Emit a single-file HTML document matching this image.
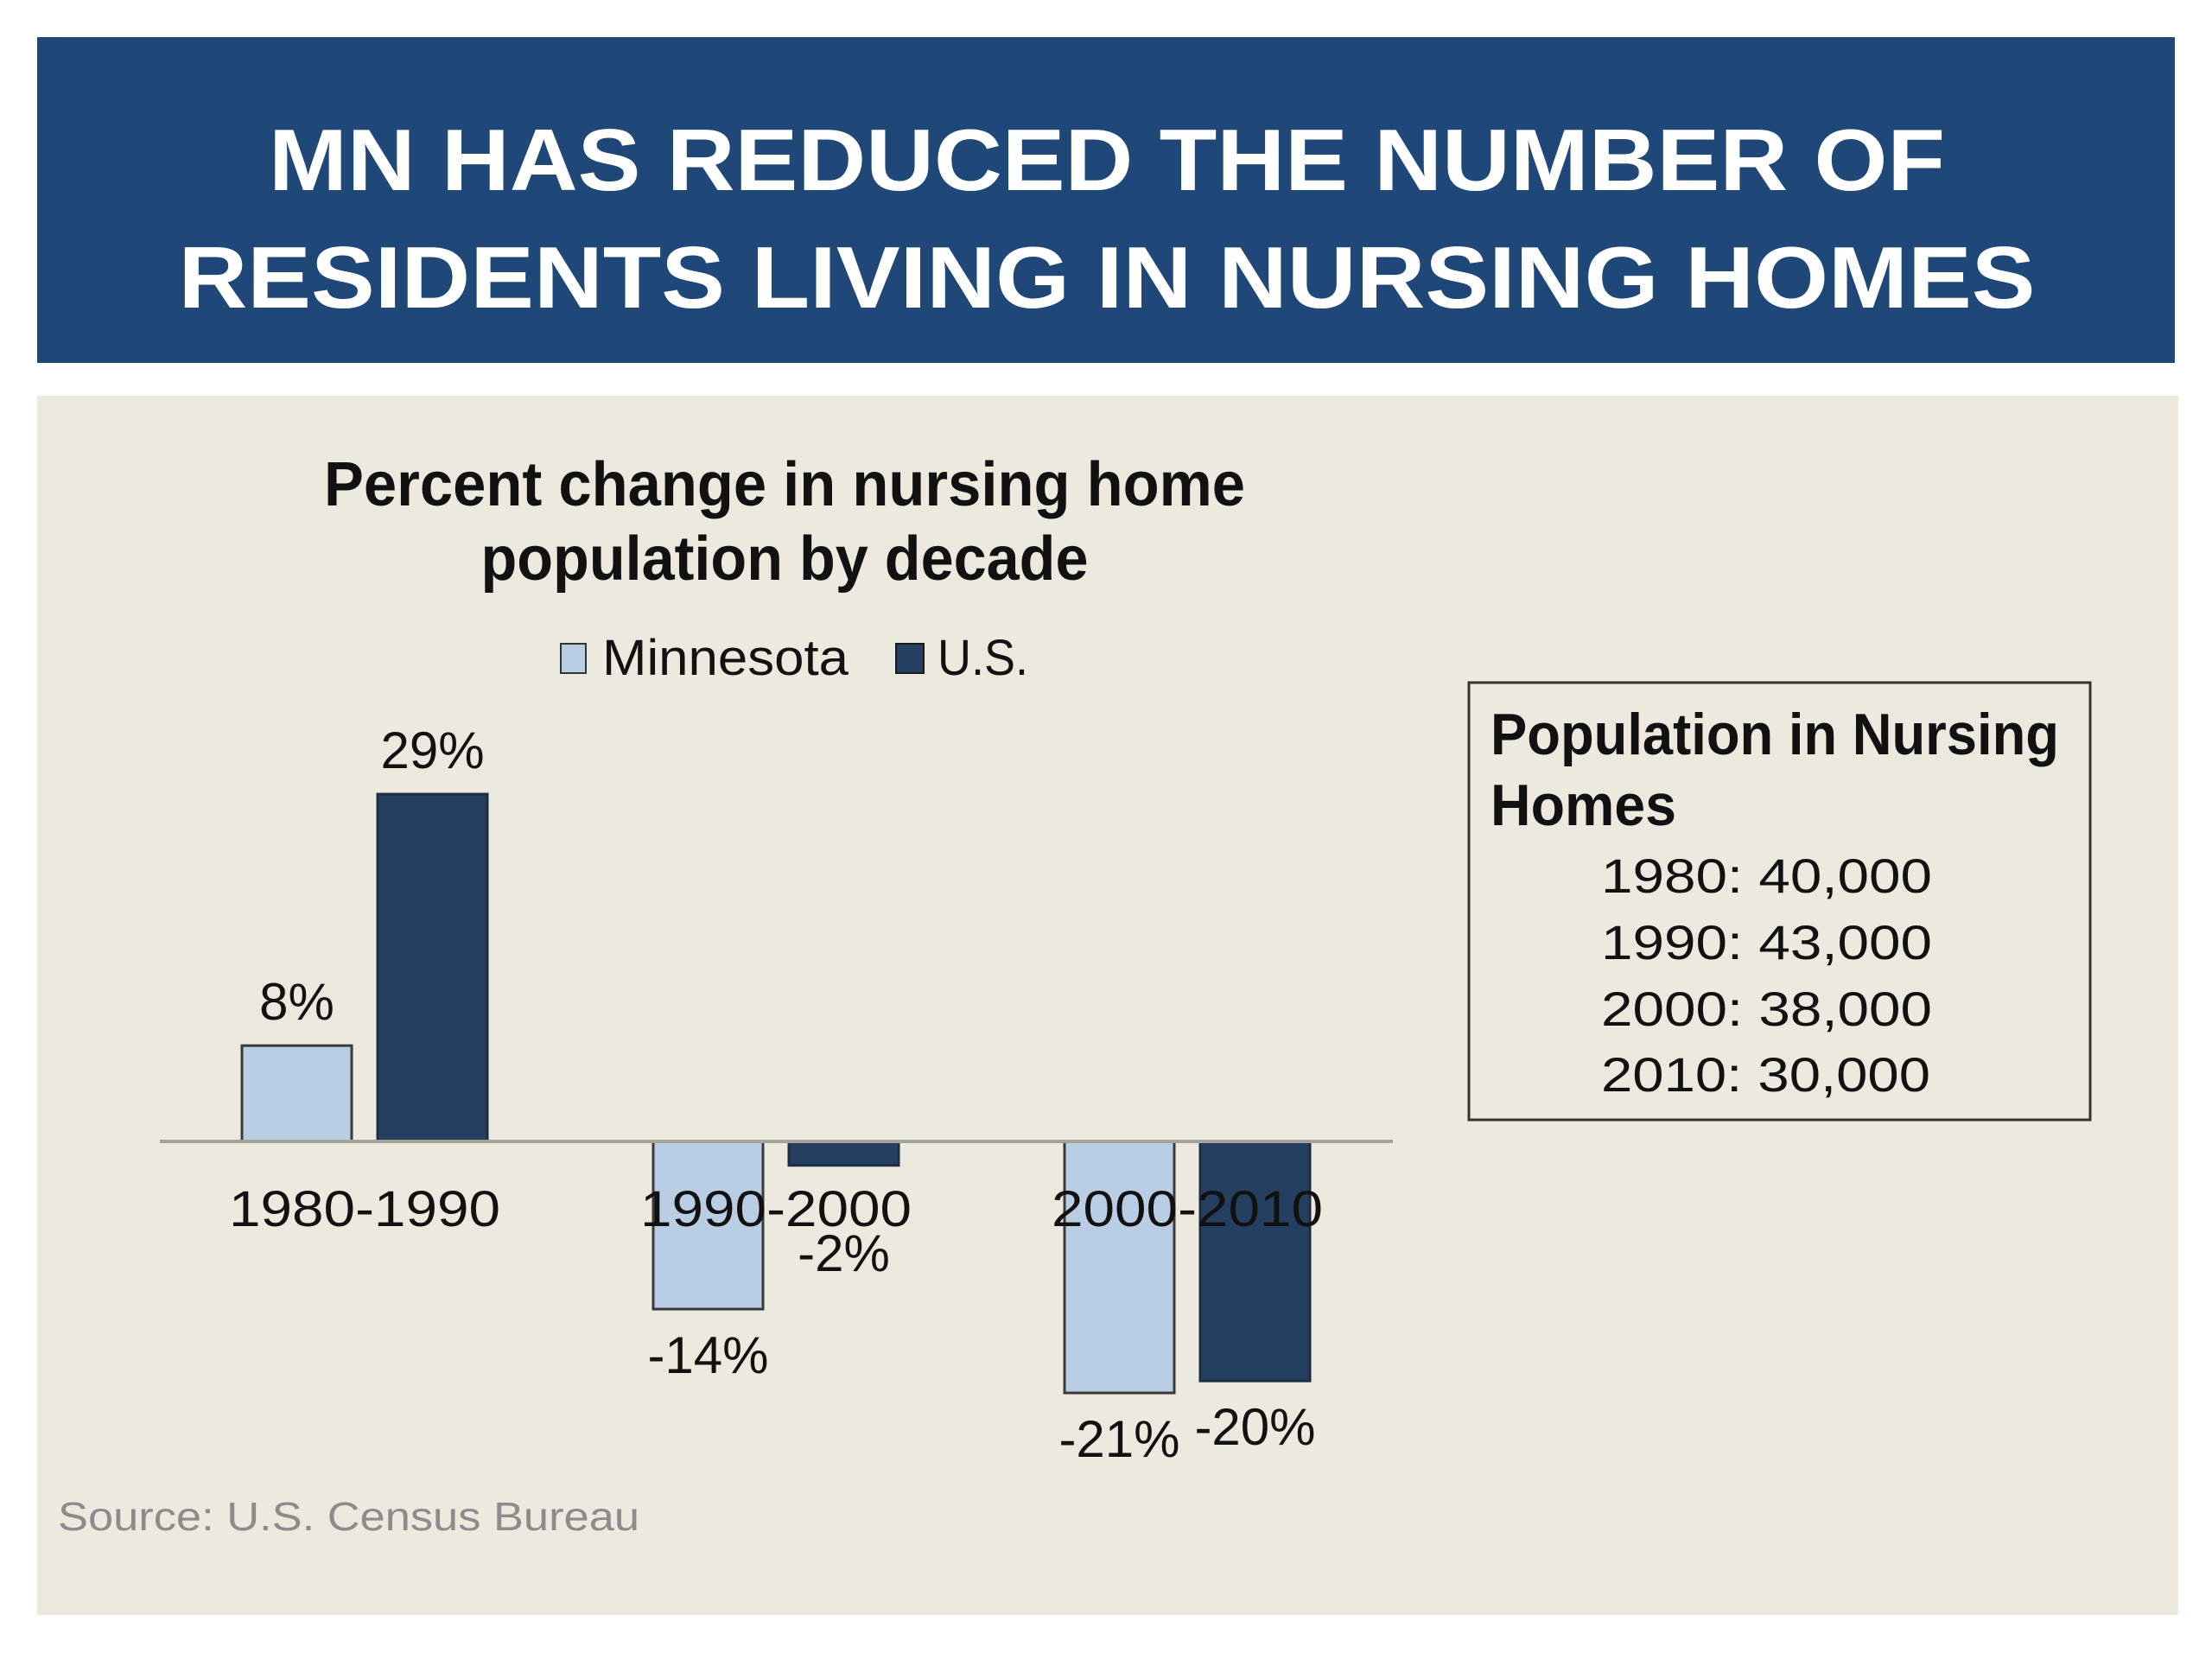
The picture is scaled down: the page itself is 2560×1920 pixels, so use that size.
<!DOCTYPE html>
<html><head><meta charset="utf-8">
<style>
html,body{margin:0;padding:0;background:#fff;}
svg{display:block;}
text{font-family:"Liberation Sans",sans-serif;}
</style></head>
<body>
<svg id="chart" width="2560" height="1920" viewBox="0 0 2560 1920" xmlns="http://www.w3.org/2000/svg">
  <rect x="0" y="0" width="2560" height="1920" fill="#ffffff"/>
  <rect x="43" y="43" width="2474" height="377" fill="#1f4778"/>
  <text x="1281" y="220" text-anchor="middle" font-size="101" font-weight="bold" fill="#ffffff" textLength="1940" lengthAdjust="spacingAndGlyphs">MN HAS REDUCED THE NUMBER OF</text>
  <text x="1281" y="356" text-anchor="middle" font-size="101" font-weight="bold" fill="#ffffff" textLength="2149" lengthAdjust="spacingAndGlyphs">RESIDENTS LIVING IN NURSING HOMES</text>

  <rect x="43" y="458" width="2478" height="1411" fill="#ece9df"/>

  <text x="908" y="585" text-anchor="middle" font-size="72" font-weight="bold" fill="#111" textLength="1066" lengthAdjust="spacingAndGlyphs">Percent change in nursing home</text>
  <text x="908" y="671" text-anchor="middle" font-size="72" font-weight="bold" fill="#111" textLength="703" lengthAdjust="spacingAndGlyphs">population by decade</text>

  <g>
    <rect x="649" y="745" width="29" height="34" fill="#b9cde5" stroke="#333" stroke-width="2"/>
    <text x="697" y="781" font-size="58" fill="#111" textLength="285" lengthAdjust="spacingAndGlyphs">Minnesota</text>
    <rect x="1037" y="745" width="32" height="34" fill="#243f5f" stroke="#1a1a1a" stroke-width="2"/>
    <text x="1085" y="781" font-size="58" fill="#111" textLength="105" lengthAdjust="spacingAndGlyphs">U.S.</text>
  </g>

  <g id="plot"></g>

  <g>
    <rect x="1700" y="790" width="719" height="506" fill="none" stroke="#333" stroke-width="3"/>
    <text x="1725" y="873" font-size="68" font-weight="bold" fill="#111" textLength="658" lengthAdjust="spacingAndGlyphs">Population in Nursing</text>
    <text x="1725" y="955" font-size="68" font-weight="bold" fill="#111" textLength="215" lengthAdjust="spacingAndGlyphs">Homes</text>
    <text x="1853" y="1033" font-size="56" fill="#111" textLength="383" lengthAdjust="spacingAndGlyphs">1980: 40,000</text>
    <text x="1853" y="1110" font-size="56" fill="#111" textLength="383" lengthAdjust="spacingAndGlyphs">1990: 43,000</text>
    <text x="1853" y="1187" font-size="56" fill="#111" textLength="383" lengthAdjust="spacingAndGlyphs">2000: 38,000</text>
    <text x="1853" y="1263" font-size="56" fill="#111" textLength="381" lengthAdjust="spacingAndGlyphs">2010: 30,000</text>
  </g>

  <text x="67" y="1771" font-size="46" fill="#8c8c8c" textLength="673" lengthAdjust="spacingAndGlyphs">Source: U.S. Census Bureau</text>
</svg>
<script>
const categories = ["1980-1990", "1990-2000", "2000-2010"];
const mnValues = [8, -14, -21];
const usValues = [29, -2, -20];
const mnLabels = ["8%", "-14%", "-21%"];
const usLabels = ["29%", "-2%", "-20%"];

const NS = "http://www.w3.org/2000/svg";
const plot = document.getElementById("plot");
const zeroY = 1321, pxPerPct = 13.86;
const firstCenter = 422, step = 476, barW = 127;
function yScale(v){ return zeroY - v * pxPerPct; }
function xCenter(i){ return firstCenter + i * step; }

function mk(tag, attrs){
  const el = document.createElementNS(NS, tag);
  for (const k in attrs) el.setAttribute(k, attrs[k]);
  return el;
}

function drawBar(i, v, label, series, left, fill, stroke){
  const y0 = Math.min(yScale(v), zeroY), h = Math.abs(yScale(v) - zeroY);
  const r = mk("rect", {x: left, y: y0, width: barW, height: h, fill: fill, stroke: stroke, "stroke-width": 3});
  
  
  plot.appendChild(r);
  const ly = v >= 0 ? yScale(v) - 30 : Math.max(yScale(v) + 74, 1471);
  const t = mk("text", {x: left + barW / 2, y: ly, "text-anchor": "middle", "font-size": 60, fill: "#111"});
  t.textContent = label;
  
  
  plot.appendChild(t);
}

categories.forEach((c, i) => {
  const cx = xCenter(i);
  drawBar(i, mnValues[i], mnLabels[i], "minnesota", cx - 142, "#b9cde5", "#3a3a3a");
  drawBar(i, usValues[i], usLabels[i], "us", cx + 15, "#243f5f", "#1e2e42");
});

const axis = mk("line", {x1: 185, x2: 1612, y1: zeroY, y2: zeroY, stroke: "#a3a29b", "stroke-width": 4});


plot.appendChild(axis);

categories.forEach((c, i) => {
  const t = mk("text", {x: xCenter(i), y: 1419, "text-anchor": "middle", "font-size": 58, fill: "#111", textLength: 314, lengthAdjust: "spacingAndGlyphs"});
  t.textContent = c;
  
  
  plot.appendChild(t);
});
</script>
</body></html>
